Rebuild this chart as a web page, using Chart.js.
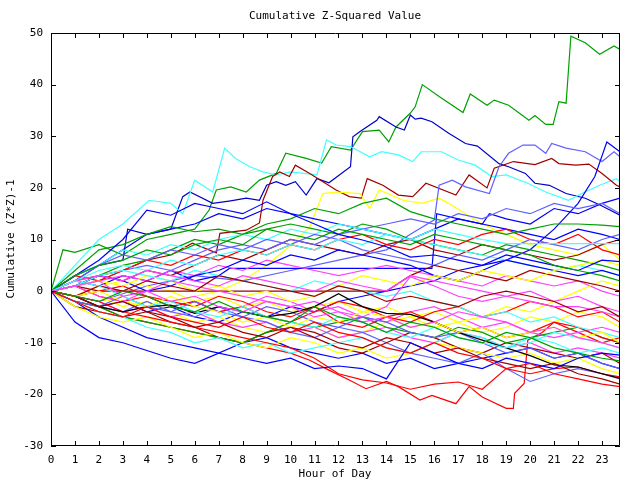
<!DOCTYPE html>
<html>
<head>
<meta charset="utf-8">
<script src="https://cdn.jsdelivr.net/npm/chart.js@4"></script>
<style>
  html, body { margin: 0; background: #fff; }
</style>
</head>
<body>
<canvas id="zChart" width="640" height="480"></canvas>
<script>
// hourly grid shared by most of the walks
const hours = [0,1,2,3,4,5,6,7,8,9,10,11,12,13,14,15,16,17,18,19,20,21,22,23,23.75];
const xTicks = [0,1,2,3,4,5,6,7,8,9,10,11,12,13,14,15,16,17,18,19,20,21,22,23];
const yTicks = [-30,-20,-10,0,10,20,30,40,50];

// the walks that stand out, traced at their own hours
const greenTopX = [0,0.5,1,2,3,4,5,6,6.6,6.9,7.5,8.15,8.7,9.4,9.8,10.65,11.3,11.7,12.5,13,13.7,14.1,14.4,15,15.2,15.5,16.2,17.2,17.5,18.2,18.5,19.1,19.95,20.2,20.65,20.96,21.2,21.5,21.7,22.3,22.9,23.5,23.75];
const greenTopY = [0,8,7.5,9,7,10,11,12,15.7,19.6,20.2,19.2,21.5,22.8,26.7,25.7,24.8,28,27.3,30.9,31.2,28.9,31.8,34.5,35.7,40,37.7,34.6,38.2,36,37,36,33.1,34,32.3,32.3,36.7,36.4,49.4,48.1,45.9,47.5,46.8];

const blueTopX = [0,1,2,3,3.2,4,5,5.5,5.8,6.75,7.5,8.15,8.7,9,9.4,9.8,10.2,10.65,11.1,11.6,12.5,12.6,12.9,13.6,13.7,14.4,14.75,15,15.2,15.45,15.9,16.6,17.3,17.8,18.7,19.1,19.8,20.2,20.8,21.5,22.3,23,23.75];
const blueTopY = [0,3,5,6,12,11,12,18.3,19.2,17,17.5,18,17.6,20.5,21.2,20.5,21.2,18.6,21.8,21,24.1,29.9,30.9,33.1,33.8,31.8,31.2,34.1,33.3,33.5,32.8,30.6,28.6,28.1,24.7,24.1,22.8,20.9,20.5,18.9,18,16.5,14.7];

const cyanTopX = [0,1,2,3,4.1,5,5.5,6,6.75,7.25,7.7,8.3,8.85,9.4,10,11.1,11.5,11.9,12.5,13.3,13.8,14.5,15.1,15.45,16.3,17,17.7,18.4,19,19.9,20.65,21.6,22.2,22.9,23.6,23.75];
const cyanTopY = [0,5,10,13,17.6,17,15,21.5,19.2,27.7,25.7,24.1,23.1,22.5,23.1,22.5,29.3,28.3,28,26,27,26.4,25.1,27,27,25.4,24.4,22.2,22.5,20.9,19.2,17.6,19,20.5,21.8,21.2];

const darkRedTopX = [0,1,2,3,4,5,5.9,6.9,7.05,8.15,8.7,8.85,9.25,9.55,9.95,10.2,10.8,11.9,12.45,12.95,13.2,13.85,14.5,15.1,15.65,16.9,17.45,18.2,18.5,19.3,20.2,20.9,21.2,21.9,22.45,23,23.6,23.75];
const darkRedTopY = [0,2,3,4,6,7,9.3,7.4,11.2,11.8,13.2,17.6,22.2,23.1,22.2,24.4,22.8,19.6,18.3,18,21.8,20.5,18.6,18.3,20.9,18.6,22.5,20,23.8,25.1,24.5,25.7,24.7,24.4,24.6,22.8,20.5,20.2];

const yellowTopX = [0,1,2,3,4,5,6,7,8,9,9.95,10.8,11.35,11.9,12.9,13.3,13.7,14.7,15.5,16.2,16.6,17.3,18,19,20,21,22,23,23.75];
const yellowTopY = [0,-1,-2,-1,-3,-2,-1,0,2,5,8.6,12.5,18.9,19.2,18.9,16,19.6,17.6,17,18,17,15,13,11,9,8,7,9,6];

const slateJumpX = [0,2,4,6,8,10,12,14,15,16,16.2,16.75,17.3,18.3,18.7,19.1,19.7,20.2,20.65,20.9,21.5,22.3,23,23.5,23.75];
const slateJumpY = [0,-2,1,3,2,4,6,8,11,13.8,20.5,21.5,20.2,18.9,24.1,26.7,28.3,28.3,26.7,28.6,27.7,27,25.1,27,26];

const blueRightX = [0,1,2,3,4,5,6,7,8,9,10,11,12,13,14,15,16,17,18,19,20,21,22,22.7,23.2,23.75];
const blueRightY = [0,-1,-3,-2,-4,-3,-5,-6,-4,-5,-3,-4,-2,-1,0,1,2,4,5,6,8,12,17,22.2,28.9,27];

const blueFlatX = [0,1,2,3,4,5,6,7,7.45,15.9,16.1,17,18,18.3,19,20,21,22,23,23.75];
const blueFlatY = [0,2,1,3,2,4,2,3,4.4,4.4,15,14,13,15,14,13,16,15,17,18];

const redDropX = [0,1,2,3,4,5,6,7,8,9,10,10.8,11.6,12.45,13.15,14,14.5,15.4,15.9,16.9,17.45,18,19,19.3,19.35,19.75,19.9,20.5,21,22,23,23.75];
const redDropY = [0,-2,-3,-5,-6,-7,-8,-9,-10,-11,-12,-13.4,-15.3,-17.2,-18.9,-17.5,-18.5,-21.1,-20.2,-21.8,-18.5,-20.5,-22.7,-22.7,-19.8,-17.9,-9.5,-8,-6,-8,-10,-9];

// the bundle, one value per hour on the shared grid
const bundleValues = [
  [0,-2,-4,-5,-3,-5,-6,-7,-5,-7,-8,-6,-8,-9,-11,-12,-10,-12,-13,-15,-14,-16,-17,-18,-18.5],
  [0,-1,-2,0,-1,-3,-4,-2,-4,-5,-6,-3,-5,-6,-8,-6,-7,-9,-10,-8,-9,-11,-12,-13,-13.5],
  [0,-6,-9,-10,-11.5,-13,-14,-12,-13,-14,-13,-15,-14.5,-15,-17,-10,-12,-14,-15,-13,-14,-15,-13,-12,-12.4],
  [0,1,2,-1,0,-2,-1,-3,-4,-2,-3,-5,-4,-6,-5,-7,-6,-4,-5,-6,-8,-7,-9,-10,-11],
  [0,2,1,-1,-3,-2,-4,-5,-3,-5,-6,-7,-5,-6,-8,-9,-7,-9,-10,-11,-9,-10,-12,-11,-12],
  [0,-1,-3,-2,-4,-5,-7,-6,-8,-9,-7,-8,-10,-11,-9,-10,-12,-11,-13,-14,-15,-14,-16,-17,-18],
  [0,-1,0,-2,-3,-1,-3,-4,-6,-5,-7,-5,-6,-4,-5,-7,-6,-8,-7,-9,-8,-7,-9,-8,-10],
  [0,-1,-3,-4,-3,-2.7,-4.3,-3,-4,-5,-4.3,-3,-0.5,-3,-4.3,-4.5,-6,-8,-9.5,-11,-12.5,-14.3,-14.7,-16,-16.9],
  [0,-2,-3,-1,-3,-4,-2,-4,-5,-3,-4,-6,-7,-5,-6,-8,-9,-8,-10,-12,-11,-13,-12,-14,-15],
  [0,3,5,6,8,7,9,10,9,12,11,10,12,11,10,9,11,10,9,8,7,5,4,3,2],
  [0,3,6,10,15.7,14.7,17,16,15,17.3,15,13,11,9.9,8.6,6.6,7,6,5,7,6,5,4,6,5.7],
  [0,-1,1,0,2,1,0,3,2,1,0,-1,1,0,-2,-1,-2,-3,-1,0,-1,-2,-4,-3,-5],
  [0,1,-1,-2,0,2,1,0,-1,-2,-3,-2,-4,-5,-3,2.8,1,-1,-2,-1,-2,-3,-3,-4,-5],
  [0,2,3,2,4,3,2,1,3,2,1,0,2,1,0,3,2,1,0,-1,0,-2,-1,-3,-4],
  [0,1,3,4,3,2,4,3,2,1,0,2,1,0,-1,0,-2,-3,-5,-4,-6,-5,-7,-8,-9],
  [0,1,2,1,3,2,0,1,-1,0,-2,-1,1,3,2,1,3,2,4,3,2,4,5,6,5],
  [0,-1,0,1,-1,-2,-3,-1,-2,-4,-5,-3,-6,-7,-5,-4,-6,-8,-7,-9,-8,-6,-7,-9,-10],
  [0,-1,-2,-4,-5,-6,-7,-8,-9,-10,-11,-13,-16,-17.2,-17.8,-19,-18,-17.6,-19,-15,-16,-15,-14.7,-16,-16.6],
  [0,-2,-4,-5,-7,-8,-10,-9,-11,-10,-12,-11,-10,-9,-11,-12,-10,-8,-9,-11,-10,-8,-9,-10,-11],
  [0,-3,-5,-6,-5,-7,-9,-8,-10,-11,-9,-10,-12,-11,-13,-12,-10,-11,-12,-13,-12,-14,-13,-15,-16],
  [0,-2,-3,-5,-6,-7,-8,-9,-10,-8,-6,-7,-6,-5,-7,-8,-9,-7,-8,-10,-9,-8,-7,-9,-10],
  [0,-3,-4,-5,-4,-6,-7,-9,-10,-8,-7,-9,-11,-12,-10,-8,-9,-11,-12,-10,-11,-12,-13,-12,-14],
  [0,-1,-3,-4,-2,-4,-5,-3,-5,-6,-8,-9,-7,-8,-10,-12,-13,-14,-12,-15,-17.5,-16,-15,-16,-17],
  [0,-1,-2,-4,-3,-5,-4,-6,-7,-6,-8,-7,-9,-8,-7,-9,-10,-8,-9,-11,-10,-12,-11,-12,-13],
  [0,1,3,2,0,1,3,4,6,5,7,6,8,7,6,5,3,2,4,6,5,4,3,4,3],
  [0,1,-1,-2,-1,-3,-2,-4,-3,-5,-6,-4,-2,-3,-5,-6,-4,-3,-5,-4,-2,-3,-5,-4,-6],
  [0,2,4,5,4,6,5,7,8,7,9,8,10,9,11,10,12,11,10,9.2,9.2,9.2,9.2,9.2,9.2],
  [0,1,0,0,0,0,0,0,0,0,0,0,0,0,0,3,5,4,3,2,4,3,2,1,0],
  [0,4,8,9,11,12.5,11.5,12,11,13,14,16,15,17,18,15.4,14,13,12,11,12,13,13,12.8,12.5],
  [0,-1,1,2,1,0,-2,-1,-3,-2,-4,-3,-2,-4,-3,-5,-4,-6,-5,-3,-4,-2,0,2,1],
  [0,2,1,0,-1,-3,-2,-4,-3,-1,-2,-4,-3,-5,-6,-4,-3,-5,-7,-6,-8,-9,-8,-7,-8],
  [0,2,5,7,6,8,7,9,8,10,9,11,10,8,7,6,5,7,6,8,10,9,8,10,11],
  [0,3,2,4,6,5,7,6,8,7,9,8,10,11,9,8,10,9,11,12,10,9,11,8,7],
  [0,3,5,8,7,9,8,10,11,10,12,11,13,12,11,10,9,8,7,6,5,4,5,4,3],
  [0,-2,-5,-7,-9,-10,-11,-12,-10,-9,-11,-12,-13,-12,-14,-13,-15,-14,-13,-12,-11,-13,-12,-14,-15],
  [0,1,-1,-3,-2,-4,-6,-5,-7,-8,-6,-7,-9,-8,-6,-5,-7,-6,-8,-7,-5,-6,-4,-5,-7],
  [0,2,5,8,11,12,13,15,14,16,15,14,13,12,11,10,12,14,13,12,11,10,12,11,10],
  [0,1,3,5,6,8,10,9,11,12,13,12,11,13,12,10,9,8,7,9,8,7,6,5,4],
  [0,1,2,4,5,4,6,8,9,8,10,9,11,12,13,14,13,15,14,16,15,17,16,17,15],
  [0,1,3,2,4,3,5,7,6,8,10,9,8,7,9,10,8,7,9,8,7,6,7,9,10],
  [0,1,2,3,2,4,3,5,4,6,5,4,3,4,5,4,3,2,1,3,2,1,2,0,-1]
];
const bundleColors = [
  '#ff0000','#00a000','#0000ff','#ff40ff','#40ffff','#a00000','#ffff00','#000000','#6060ff',
  '#00a000','#0000ff','#a00000','#ff40ff','#ff40ff','#40ffff','#ffff00','#ff0000','#ff0000',
  '#40ffff','#ffff00','#00a000','#a00000','#6060ff','#ff40ff','#0000ff','#ff0000','#40ffff',
  '#a00000','#00a000','#ffff00','#ff40ff','#6060ff','#ff0000','#40ffff','#0000ff','#ffff00',
  '#0000ff','#00a000','#6060ff','#a00000','#ff40ff'
];

function toPoints(xs, ys) {
  return xs.map((x, i) => ({ x: x, y: ys[i] }));
}

function walk(xs, ys, color) {
  return {
    data: toPoints(xs, ys),
    borderColor: color,
    borderWidth: 1.2,
    pointRadius: 0,
    tension: 0,
    fill: false,
  };
}

const datasets = bundleValues.map((vals, i) => walk(hours, vals, bundleColors[i]));
datasets.push(
  walk(redDropX, redDropY, '#ff0000'),
  walk(blueFlatX, blueFlatY, '#0000ff'),
  walk(blueRightX, blueRightY, '#0000ff'),
  walk(slateJumpX, slateJumpY, '#6060ff'),
  walk(yellowTopX, yellowTopY, '#ffff00'),
  walk(darkRedTopX, darkRedTopY, '#a00000'),
  walk(cyanTopX, cyanTopY, '#40ffff'),
  walk(blueTopX, blueTopY, '#0000c8'),
  walk(greenTopX, greenTopY, '#00a000')
);

const FONT = '"DejaVu Sans Mono", monospace';

// gnuplot-style frame, inward ticks and the three text labels
const framePlugin = {
  id: 'frame',
  afterDraw(chart) {
    const { ctx, chartArea: a, scales } = chart;
    const x = scales.x, y = scales.y;
    ctx.save();
    ctx.strokeStyle = '#000';
    ctx.lineWidth = 1;
    ctx.beginPath();
    ctx.rect(a.left + 0.5, a.top + 0.5, a.right - a.left - 1, a.bottom - a.top - 1);
    x.ticks.forEach((t) => {
      const px = Math.round(x.getPixelForValue(t.value)) + 0.5;
      ctx.moveTo(px, a.bottom); ctx.lineTo(px, a.bottom - 5);
      ctx.moveTo(px, a.top); ctx.lineTo(px, a.top + 5);
    });
    y.ticks.forEach((t) => {
      const py = Math.round(y.getPixelForValue(t.value)) + 0.5;
      ctx.moveTo(a.left, py); ctx.lineTo(a.left + 5, py);
      ctx.moveTo(a.right, py); ctx.lineTo(a.right - 5, py);
    });
    ctx.stroke();

    ctx.fillStyle = '#000';
    ctx.font = '11px ' + FONT;
    ctx.textAlign = 'center';
    ctx.textBaseline = 'alphabetic';
    ctx.fillText('Cumulative Z-Squared Value', 335, 19);
    ctx.fillText('Hour of Day', 335, 477);
    ctx.translate(14, 239);
    ctx.rotate(-Math.PI / 2);
    ctx.fillText('Cumulative (Z*Z)-1', 0, 0);
    ctx.restore();
  }
};

new Chart(document.getElementById('zChart').getContext('2d'), {
  type: 'line',
  data: { datasets: datasets },
  options: {
    responsive: false,
    animation: false,
    layout: { padding: { top: 33, right: 20, left: 0, bottom: 0 } },
    plugins: { legend: { display: false }, tooltip: { enabled: false } },
    scales: {
      x: {
        type: 'linear',
        min: 0,
        max: 23.75,
        grid: { display: false, drawTicks: false },
        border: { display: false },
        ticks: { padding: 8, color: '#000', font: { family: FONT, size: 11 }, maxRotation: 0, autoSkip: false },
        afterBuildTicks: (scale) => { scale.ticks = xTicks.map((v) => ({ value: v })); },
        afterFit: (scale) => { scale.height = 34; },
      },
      y: {
        min: -30,
        max: 50,
        grid: { display: false, drawTicks: false },
        border: { display: false },
        ticks: { padding: 8, color: '#000', font: { family: FONT, size: 11 } },
        afterBuildTicks: (scale) => { scale.ticks = yTicks.map((v) => ({ value: v })); },
        afterFit: (scale) => { scale.width = 51; },
      },
    },
  },
  plugins: [framePlugin],
});
</script>
</body>
</html>
